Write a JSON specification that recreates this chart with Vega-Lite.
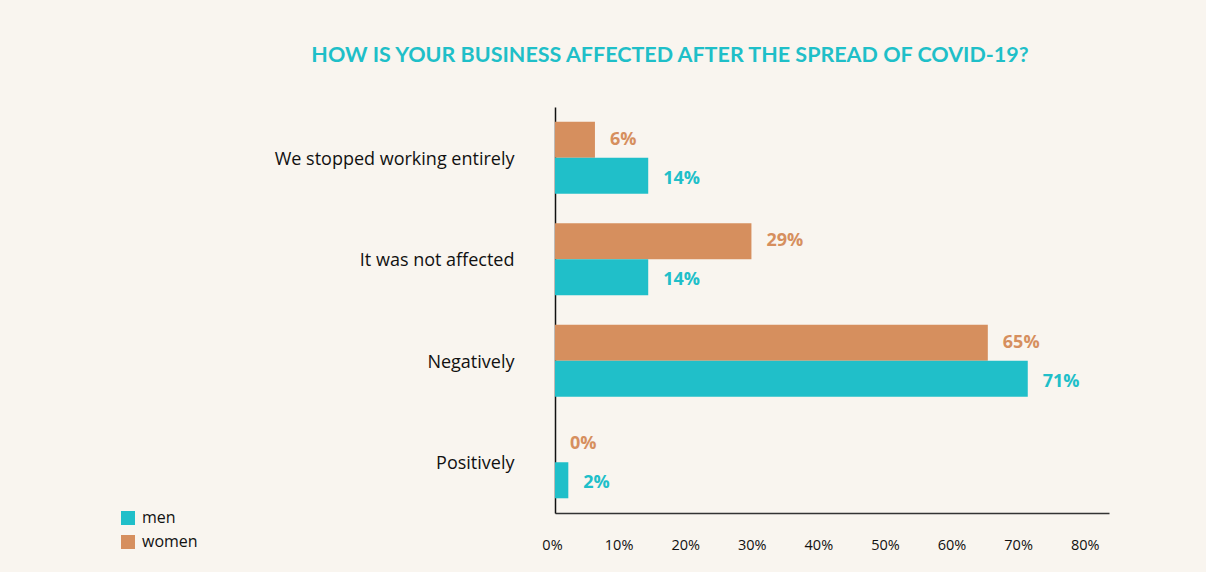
{
  "$schema": "https://vega.github.io/schema/vega-lite/v6.json",
  "width": 554,
  "height": 406,
  "autosize": {"type": "none"},
  "padding": {"left": 555, "top": 107, "right": 97, "bottom": 59},
  "background": "#f9f5ef",
  "title": {
    "text": "HOW IS YOUR BUSINESS AFFECTED AFTER THE SPREAD OF COVID-19?",
    "anchor": "middle",
    "frame": "group",
    "dx": -162,
    "offset": 41,
    "font": "Lato",
    "fontSize": 21.5,
    "fontWeight": "bold",
    "color": "#1fbfc8"
  },
  "config": {"view": {"stroke": null}},
  "data": {
    "values": [
      {"answer": "We stopped working entirely", "gender": "women", "pct": 6, "label": "6%"},
      {"answer": "We stopped working entirely", "gender": "men", "pct": 14, "label": "14%"},
      {"answer": "It was not affected", "gender": "women", "pct": 29.5, "label": "29%"},
      {"answer": "It was not affected", "gender": "men", "pct": 14, "label": "14%"},
      {"answer": "Negatively", "gender": "women", "pct": 65, "label": "65%"},
      {"answer": "Negatively", "gender": "men", "pct": 71, "label": "71%"},
      {"answer": "Positively", "gender": "women", "pct": 0, "label": "0%"},
      {"answer": "Positively", "gender": "men", "pct": 2, "label": "2%"}
    ]
  },
  "encoding": {
    "y": {
      "field": "answer",
      "type": "nominal",
      "sort": ["We stopped working entirely", "It was not affected", "Negatively", "Positively"],
      "scale": {"paddingInner": 0.29, "paddingOuter": 0.145},
      "axis": {
        "title": null,
        "ticks": false,
        "domainColor": "#111111",
        "domainWidth": 1.5,
        "labelFont": "Open Sans",
        "labelFontSize": 18,
        "labelColor": "#111111",
        "labelPadding": 41,
        "labelOffset": 2,
        "labelLimit": 500
      }
    },
    "yOffset": {"field": "gender", "type": "nominal", "sort": ["women", "men"]},
    "x": {
      "field": "pct",
      "type": "quantitative",
      "scale": {"domain": [0, 83.2], "nice": false},
      "axis": {
        "title": null,
        "values": [0, 10, 20, 30, 40, 50, 60, 70, 80],
        "labelExpr": "datum.value + '%'",
        "labelFlush": false,
        "labelOffset": -3,
        "ticks": false,
        "grid": false,
        "domainColor": "#333333",
        "domainWidth": 1.5,
        "labelFont": "Open Sans",
        "labelFontSize": 14.5,
        "labelColor": "#111111",
        "labelPadding": 25
      }
    },
    "color": {
      "field": "gender",
      "type": "nominal",
      "scale": {"domain": ["men", "women"], "range": ["#20bfc9", "#d68f5e"]},
      "legend": {
        "title": null,
        "orient": "none",
        "legendX": -435,
        "legendY": 403,
        "symbolType": "square",
        "symbolSize": 196,
        "symbolStrokeWidth": 0,
        "symbolOpacity": 1,
        "labelFont": "Open Sans",
        "labelFontSize": 16,
        "labelColor": "#111111",
        "labelOffset": 6,
        "rowPadding": 8
      }
    }
  },
  "layer": [
    {"mark": {"type": "bar"}},
    {
      "transform": [{"filter": "datum.gender === 'women'"}],
      "mark": {"type": "text", "align": "left", "baseline": "middle", "dx": 15, "dy": 0, "font": "Open Sans", "fontSize": 18, "fontWeight": "bold"},
      "encoding": {"text": {"field": "label"}}
    },
    {
      "transform": [{"filter": "datum.gender === 'men'"}],
      "mark": {"type": "text", "align": "left", "baseline": "middle", "dx": 15, "dy": 3, "font": "Open Sans", "fontSize": 18, "fontWeight": "bold"},
      "encoding": {"text": {"field": "label"}}
    }
  ]
}
